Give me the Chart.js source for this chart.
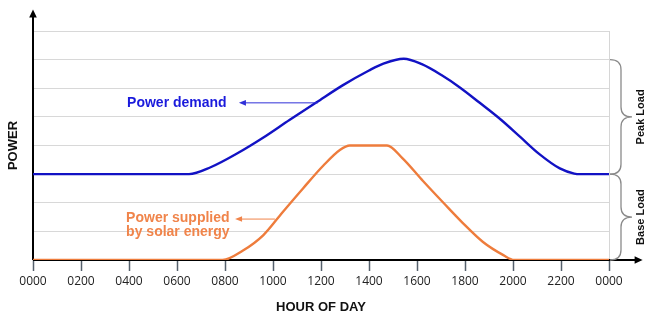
<!DOCTYPE html>
<html>
<head>
<meta charset="utf-8">
<script src="https://cdn.jsdelivr.net/npm/chart.js@4.4.0/dist/chart.umd.min.js"></script>
<style>
  html, body { margin: 0; padding: 0; background: #fff; }
  #wrap { width: 660px; height: 327px; }
</style>
</head>
<body>
<div id="wrap"><canvas id="chart"></canvas></div>
<script>
// hours of day (0..24) and power level in grid units
const demandHours  = [0, 6.5, 7.4, 8.5, 9.6, 10.7, 11.8, 12.9, 14.0, 14.6, 15.45, 16.2, 17.0, 17.8, 18.6, 19.5, 20.3, 21.1, 21.95, 22.55, 22.8, 24];
const demandValues = [3, 3, 3.24, 3.72, 4.28, 4.9, 5.5, 6.1, 6.62, 6.86, 7.03, 6.84, 6.47, 6.02, 5.5, 4.9, 4.3, 3.7, 3.2, 3.02, 3, 3];

const solarHours  = [0, 7.9, 8.75, 9.6, 10.4, 11.25, 12.1, 12.8, 13.2, 14.75, 15.4, 16.25, 17.1, 17.9, 18.75, 19.6, 20.05, 24];
const solarValues = [0, 0, 0.33, 0.87, 1.67, 2.5, 3.3, 3.85, 4, 4, 3.55, 2.76, 2.0, 1.3, 0.63, 0.17, 0, 0];

const tickHours = [0, 2, 4, 6, 8, 10, 12, 14, 16, 18, 20, 22, 24];
const tickLabels = ['0000', '0200', '0400', '0600', '0800', '1000', '1200', '1400', '1600', '1800', '2000', '2200', '0000'];

// load bands shown by the braces on the right
const baseLoad = 3;
const peakLoad = 7;

const blue = '#1212c4';
const orange = '#ee7c3c';

function toPoints(xs, ys) {
  return xs.map((x, i) => ({ x: x, y: ys[i] }));
}

function arrowHead(ctx, x, y, dx, dy, len, half) {
  // tip at (x,y), pointing along (dx,dy)
  ctx.beginPath();
  ctx.moveTo(x, y);
  ctx.lineTo(x - dx * len - dy * half, y - dy * len + dx * half);
  ctx.lineTo(x - dx * len + dy * half, y - dy * len - dx * half);
  ctx.closePath();
  ctx.fill();
}

function brace(ctx, x, y1, y2, w) {
  const q = w / 2;
  const mid = (y1 + y2) / 2;
  const r = 10;
  ctx.beginPath();
  ctx.moveTo(x, y1);
  ctx.quadraticCurveTo(x + q, y1, x + q, y1 + r);
  ctx.lineTo(x + q, mid - r);
  ctx.quadraticCurveTo(x + q, mid, x + w, mid);
  ctx.quadraticCurveTo(x + q, mid, x + q, mid + r);
  ctx.lineTo(x + q, y2 - r);
  ctx.quadraticCurveTo(x + q, y2, x, y2);
  ctx.stroke();
}

const axisPlugin = {
  id: 'axes',
  beforeDatasetsDraw(chart) {
    const { ctx, chartArea, scales } = chart;
    const x0 = scales.x.getPixelForValue(0);
    const y0 = scales.y.getPixelForValue(0);
    ctx.save();
    // light right edge
    ctx.strokeStyle = '#d6d6d6';
    ctx.lineWidth = 1;
    ctx.beginPath();
    ctx.moveTo(chartArea.right + 0.5, chartArea.top);
    ctx.lineTo(chartArea.right + 0.5, chartArea.bottom);
    ctx.stroke();

    ctx.strokeStyle = '#000';
    ctx.fillStyle = '#000';
    ctx.lineWidth = 2;
    const yTop = scales.y.getPixelForValue(8.75);
    ctx.beginPath();
    ctx.moveTo(x0, y0);
    ctx.lineTo(x0, yTop + 6);
    ctx.stroke();
    arrowHead(ctx, x0, yTop, 0, -1, 8, 3.8);

    const xEnd = scales.x.getPixelForValue(25.4);
    ctx.beginPath();
    ctx.moveTo(x0, y0);
    ctx.lineTo(xEnd - 6, y0);
    ctx.stroke();
    arrowHead(ctx, xEnd, y0, 1, 0, 8, 3.8);
    ctx.restore();
  },
  afterDraw(chart) {
    const { ctx, chartArea, scales } = chart;
    const xs = scales.x, ys = scales.y;
    ctx.save();

    // braces
    ctx.strokeStyle = '#8a8a8a';
    ctx.lineWidth = 1.3;
    const bx = chartArea.right + 1;
    brace(ctx, bx, ys.getPixelForValue(peakLoad), ys.getPixelForValue(baseLoad), 22);
    brace(ctx, bx, ys.getPixelForValue(baseLoad), ys.getPixelForValue(0), 22);

    ctx.fillStyle = '#111';
    ctx.font = 'bold 11px "Liberation Sans", Arial, sans-serif';
    ctx.textAlign = 'center';
    ctx.textBaseline = 'middle';
    const lx = chartArea.right + 32;
    [['Peak Load', (peakLoad + baseLoad) / 2], ['Base Load', baseLoad / 2]].forEach(([t, v]) => {
      ctx.save();
      ctx.translate(lx, ys.getPixelForValue(v));
      ctx.rotate(-Math.PI / 2);
      ctx.fillText(t, 0, 0);
      ctx.restore();
    });

    // annotations
    ctx.textAlign = 'left';
    ctx.font = 'bold 14px "Liberation Sans", Arial, sans-serif';
    ctx.fillStyle = '#1a1adc';
    const dy = ys.getPixelForValue(5.49);
    ctx.fillText('Power demand', xs.getPixelForValue(3.92), dy);
    ctx.strokeStyle = '#3030d8';
    ctx.lineWidth = 1;
    ctx.beginPath();
    ctx.moveTo(xs.getPixelForValue(11.87), dy);
    ctx.lineTo(xs.getPixelForValue(8.58) + 4, dy);
    ctx.stroke();
    ctx.fillStyle = '#3030d8';
    arrowHead(ctx, xs.getPixelForValue(8.58), dy, -1, 0, 7, 2.8);

    ctx.fillStyle = '#f0844a';
    ctx.fillText('Power supplied', xs.getPixelForValue(3.88), ys.getPixelForValue(1.47));
    ctx.fillText('by solar energy', xs.getPixelForValue(3.88), ys.getPixelForValue(0.98));
    const oy = ys.getPixelForValue(1.43);
    ctx.strokeStyle = '#f0844a';
    ctx.beginPath();
    ctx.moveTo(xs.getPixelForValue(10.08), oy);
    ctx.lineTo(xs.getPixelForValue(8.42) + 4, oy);
    ctx.stroke();
    arrowHead(ctx, xs.getPixelForValue(8.42), oy, -1, 0, 7, 2.8);
    ctx.restore();
  }
};

new Chart(document.getElementById('chart'), {
  type: 'line',
  data: {
    datasets: [
      {
        label: 'Power demand',
        data: toPoints(demandHours, demandValues),
        borderColor: blue,
        borderWidth: 2.4,
        pointRadius: 0,
        cubicInterpolationMode: 'monotone'
      },
      {
        label: 'Power supplied by solar energy',
        data: toPoints(solarHours, solarValues),
        borderColor: orange,
        borderWidth: 2.4,
        pointRadius: 0,
        cubicInterpolationMode: 'monotone'
      }
    ]
  },
  options: {
    responsive: true,
    maintainAspectRatio: false,
    animation: false,
    layout: { padding: { top: 31, right: 51, left: 0, bottom: 0 } },
    plugins: { legend: { display: false }, tooltip: { enabled: false } },
    scales: {
      x: {
        type: 'linear',
        min: 0,
        max: 24,
        afterFit(s) { s.height = 67; },
        afterBuildTicks(s) { s.ticks = tickHours.map(v => ({ value: v })); },
        ticks: {
          autoSkip: false,
          maxRotation: 0,
          padding: 3,
          color: '#222',
          font: { family: '"Open Sans", sans-serif', size: 12 },
          callback: (v, i) => tickLabels[i]
        },
        grid: { drawOnChartArea: false, drawTicks: true, tickLength: 11, tickColor: '#55606c', tickWidth: 1.5 },
        border: { display: false },
        title: {
          display: true,
          text: 'HOUR OF DAY',
          color: '#111',
          font: { family: '"Liberation Sans", Arial, sans-serif', size: 13, weight: 'bold' },
          padding: { top: 0, bottom: 12 }
        }
      },
      y: {
        min: 0,
        max: 8,
        afterFit(s) { s.width = 33; },
        ticks: { display: false, stepSize: 1 },
        grid: { color: '#d8d8d8', lineWidth: 1, drawTicks: false },
        border: { display: false },
        title: {
          display: true,
          text: 'POWER',
          color: '#111',
          font: { family: '"Liberation Sans", Arial, sans-serif', size: 13, weight: 'bold' },
          padding: { top: 6, bottom: 0 }
        }
      }
    }
  },
  plugins: [axisPlugin]
});
</script>
</body>
</html>
